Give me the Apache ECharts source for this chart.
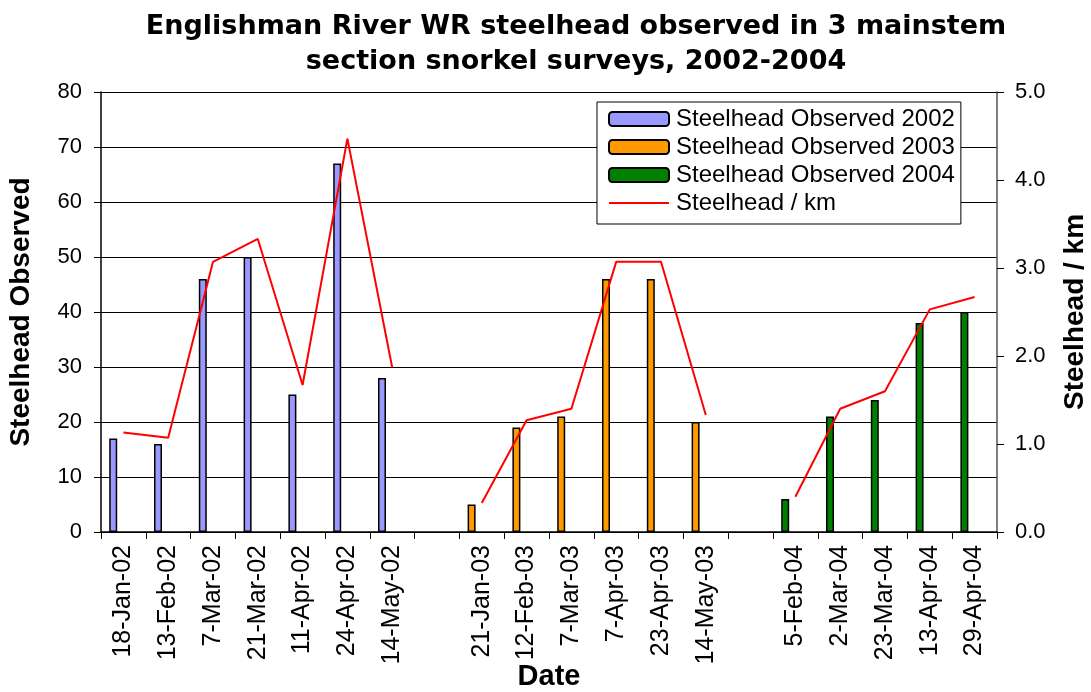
<!DOCTYPE html>
<html>
<head>
<meta charset="utf-8">
<script src="https://cdn.jsdelivr.net/npm/echarts@6/dist/echarts.min.js"></script>
<style>
  html, body { margin: 0; padding: 0; background: #fff; }
  #chart { width: 1091px; height: 692px; }
</style>
</head>
<body>
<div id="chart"></div>
<script>
// dates, with blank slots between the survey years
const dates = ['18-Jan-02', '13-Feb-02', '7-Mar-02', '21-Mar-02', '11-Apr-02', '24-Apr-02', '14-May-02', '',
    '21-Jan-03', '12-Feb-03', '7-Mar-03', '7-Apr-03', '23-Apr-03', '14-May-03', '',
    '5-Feb-04', '2-Mar-04', '23-Mar-04', '13-Apr-04', '29-Apr-04'];

const obs2002 = [17, 16, 46, 50, 25, 67, 28, '-', '-', '-', '-', '-', '-', '-', '-', '-', '-', '-', '-', '-'];
const obs2003 = ['-', '-', '-', '-', '-', '-', '-', '-', 5, 19, 21, 46, 46, 20, '-', '-', '-', '-', '-', '-'];
const obs2004 = ['-', '-', '-', '-', '-', '-', '-', '-', '-', '-', '-', '-', '-', '-', '-', 6, 21, 24, 38, 40];
const perKm = [1.13, 1.07, 3.07, 3.33, 1.67, 4.47, 1.87, '-', 0.33, 1.27, 1.4, 3.07, 3.07, 1.33, '-', 0.4, 1.4, 1.6, 2.53, 2.67];

const leftTicks = { min: 0, max: 80, interval: 10 };
const rightTicks = { min: 0, max: 5, interval: 1 };

const font = 'Liberation Sans, Arial, sans-serif';
const chart = echarts.init(document.getElementById('chart'));

function barSeries(name, data, color) {
    return {
        name: name,
        type: 'bar',
        stack: 'obs',
        data: data,
        barWidth: 8,
        barGap: '155%',
        itemStyle: { color: color, borderColor: '#000', borderWidth: 1.5 }
    };
}

chart.setOption({
    animation: false,
    textStyle: { fontFamily: font },
    title: {
        text: 'Englishman River WR steelhead observed in 3 mainstem\nsection snorkel surveys, 2002-2004',
        left: 571,
        textAlign: 'center',
        top: 4,
        // the original title is letter-spaced; a wider face gets close to it
        textStyle: { fontSize: 27, fontWeight: 'bold', color: '#000', lineHeight: 35, fontFamily: 'DejaVu Sans' }
    },
    grid: { left: 101, right: 94, top: 92, bottom: 160, outerBoundsMode: 'none' },
    legend: {
        data: [
            'Steelhead Observed 2002',
            'Steelhead Observed 2003',
            'Steelhead Observed 2004',
            { name: 'Steelhead / km', itemStyle: { opacity: 0 } }
        ],
        orient: 'vertical',
        left: 597,
        top: 102,
        itemWidth: 60,
        itemHeight: 14,
        itemGap: 4,
        padding: [5, 6, 9, 11],
        backgroundColor: '#fff',
        borderColor: '#000',
        borderWidth: 1,
        textStyle: { fontSize: 24, color: '#000', fontFamily: font, padding: [0, 0, 0, 2] }
    },
    xAxis: {
        type: 'category',
        data: dates,
        name: 'Date',
        nameLocation: 'middle',
        nameGap: 130,
        nameMoveOverlap: false,
        nameTextStyle: { fontSize: 29, fontWeight: 'bold', color: '#000' },
        axisLine: { lineStyle: { color: '#000', width: 1.5 } },
        axisTick: { show: true, interval: 0, length: 7, lineStyle: { color: '#000' } },
        axisLabel: { interval: 0, rotate: 90, fontSize: 25, color: '#000', margin: 13 }
    },
    yAxis: [{
        type: 'value',
        ...leftTicks,
        name: 'Steelhead Observed',
        nameLocation: 'middle',
        nameGap: 66,
        nameTextStyle: { fontSize: 28, fontWeight: 'bold', color: '#000' },
        axisLine: { show: true, lineStyle: { color: '#000', width: 1.5 } },
        axisTick: { show: true, length: 7, lineStyle: { color: '#000' } },
        axisLabel: { fontSize: 22, color: '#000', margin: 19 },
        splitLine: { lineStyle: { color: '#000', width: 1 } }
    }, {
        type: 'value',
        ...rightTicks,
        position: 'right',
        name: 'Steelhead / km',
        nameLocation: 'middle',
        nameGap: 64,
        nameRotate: 90,
        nameTextStyle: { fontSize: 28, fontWeight: 'bold', color: '#000' },
        axisLine: { show: true, lineStyle: { color: '#555', width: 1.5 } },
        axisTick: { show: true, length: 7, lineStyle: { color: '#000' } },
        axisLabel: { fontSize: 22, color: '#000', margin: 18, formatter: v => v.toFixed(1) },
        splitLine: { show: false }
    }],
    series: [
        barSeries('Steelhead Observed 2002', obs2002, '#9999FF'),
        barSeries('Steelhead Observed 2003', obs2003, '#FF9900'),
        barSeries('Steelhead Observed 2004', obs2004, '#008000'),
        // empty column so the bars sit left of the category centre, as in the original
        { name: 'pad', type: 'bar', data: dates.map(() => '-'), barWidth: 8, barGap: '155%' },
        {
            name: 'Steelhead / km',
            type: 'line',
            yAxisIndex: 1,
            data: perKm,
            symbol: 'none',
            lineStyle: { color: '#FF0000', width: 2 },
            itemStyle: { color: '#FF0000' }
        }
    ]
});
</script>
</body>
</html>
